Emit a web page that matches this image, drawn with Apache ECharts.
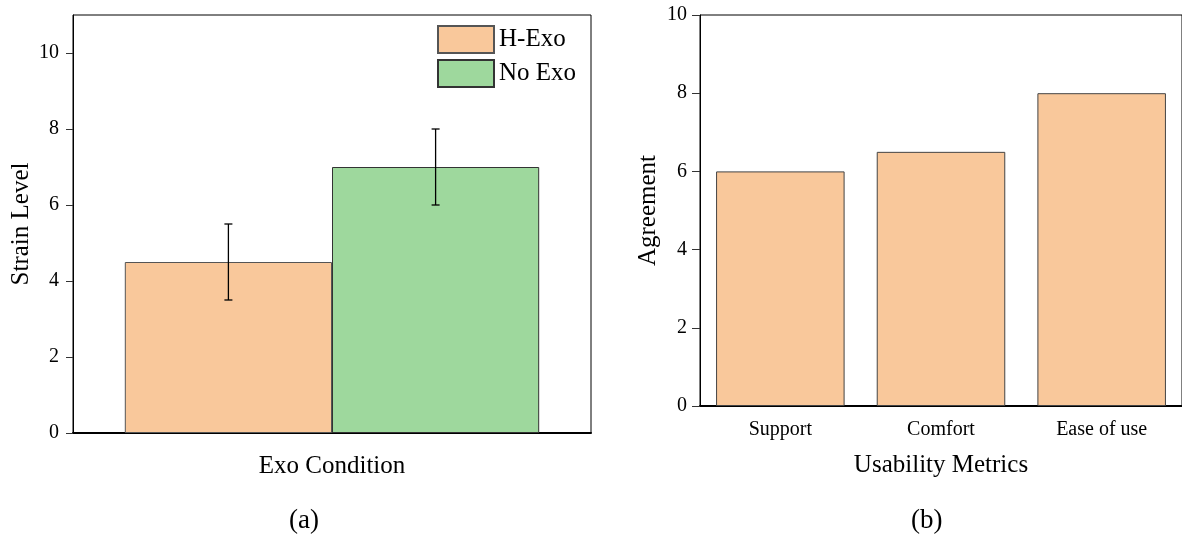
<!DOCTYPE html>
<html>
<head>
<meta charset="utf-8">
<script src="https://cdn.jsdelivr.net/npm/echarts@6/dist/echarts.min.js"></script>
<style>
  html, body { margin: 0; padding: 0; background: #fff; }
  #main { width: 1182px; height: 539px; }
</style>
</head>
<body>
<div id="main"></div>
<script>
// panel (a)
var conditions = ['H-Exo', 'No Exo'];
var strainMean = [4.5, 7];
var strainErr = [1, 1];
var strainTicks = [0, 2, 4, 6, 8, 10];
// panel (b)
var metrics = ['Support', 'Comfort', 'Ease of use'];
var agreement = [6, 6.5, 8];

var serif = 'Liberation Serif';
var colors = ['#F9C89B', '#9ED89D'];

var dom = document.getElementById('main');
var myChart = echarts.init(dom);

function errorItem(params, api) {
    var idx = api.value(3);
    var band = api.size([1, 0])[0];
    var hi = api.coord([api.value(0), api.value(2)]);
    var lo = api.coord([api.value(0), api.value(1)]);
    var x = hi[0] + (idx - 0.5) * band * 0.4;
    var cap = 4;
    var style = { stroke: '#000', lineWidth: 1.3 };
    return {
        type: 'group',
        children: [
            { type: 'line', shape: { x1: x, y1: hi[1], x2: x, y2: lo[1] }, style: style },
            { type: 'line', shape: { x1: x - cap, y1: hi[1], x2: x + cap, y2: hi[1] }, style: style },
            { type: 'line', shape: { x1: x - cap, y1: lo[1], x2: x + cap, y2: lo[1] }, style: style }
        ]
    };
}

var axisText = { fontFamily: serif, fontSize: 25, color: '#000' };

var option = {
    animation: false,
    textStyle: { fontFamily: serif },
    grid: [
        { left: 73, top: 15, width: 518, height: 418, show: true, borderColor: '#000', borderWidth: 1 },
        { left: 700, top: 15, width: 486, height: 391, show: true, borderColor: '#000', borderWidth: 1 }
    ],
    legend: {
        data: conditions,
        orient: 'vertical',
        left: 437,
        top: 25,
        padding: 0,
        itemWidth: 56,
        itemHeight: 27,
        itemGap: 5,
        icon: 'rect',
        textStyle: { fontFamily: serif, fontSize: 25, color: '#000' }
    },
    xAxis: [
        {
            gridIndex: 0,
            type: 'category',
            data: ['Exo Condition'],
            name: 'Exo Condition',
            nameLocation: 'middle',
            nameGap: 21,
            nameTextStyle: axisText,
            axisLine: { lineStyle: { color: '#000', width: 2 } },
            axisTick: { alignWithLabel: true, length: 7, lineStyle: { color: '#555' } },
            axisLabel: { show: false }
        },
        {
            gridIndex: 1,
            type: 'category',
            data: metrics,
            name: 'Usability Metrics',
            nameLocation: 'middle',
            nameGap: 47,
            nameTextStyle: axisText,
            axisLine: { lineStyle: { color: '#000', width: 2 } },
            axisTick: { alignWithLabel: true, length: 6, lineStyle: { color: '#555' } },
            axisLabel: { fontFamily: serif, fontSize: 20, color: '#000', margin: 14 }
        }
    ],
    yAxis: [
        {
            gridIndex: 0,
            type: 'value',
            min: 0,
            max: 11,
            interval: 2,
            name: 'Strain Level',
            nameLocation: 'middle',
            nameGap: 39,
            nameTextStyle: axisText,
            axisLine: { show: true, lineStyle: { color: '#000', width: 1 } },
            axisTick: { show: true, length: 7, customValues: strainTicks, lineStyle: { color: '#333' } },
            axisLabel: {
                fontFamily: serif, fontSize: 20, color: '#000', margin: 14,
                customValues: strainTicks
            },
            splitLine: { show: false }
        },
        {
            gridIndex: 1,
            type: 'value',
            min: 0,
            max: 10,
            interval: 2,
            name: 'Agreement',
            nameLocation: 'middle',
            nameGap: 39,
            nameTextStyle: axisText,
            axisLine: { show: true, lineStyle: { color: '#000', width: 1 } },
            axisTick: { show: true, length: 8, lineStyle: { color: '#333' } },
            axisLabel: { fontFamily: serif, fontSize: 20, color: '#000', margin: 13 },
            splitLine: { show: false }
        }
    ],
    series: [
        {
            name: conditions[0],
            type: 'bar',
            xAxisIndex: 0, yAxisIndex: 0,
            data: [strainMean[0]],
            barGap: 0,
            barCategoryGap: '20%',
            itemStyle: { color: colors[0], borderColor: '#555', borderWidth: 1 }
        },
        {
            name: conditions[1],
            type: 'bar',
            xAxisIndex: 0, yAxisIndex: 0,
            data: [strainMean[1]],
            barGap: 0,
            barCategoryGap: '20%',
            itemStyle: { color: colors[1], borderColor: '#333', borderWidth: 1 }
        },
        {
            type: 'custom',
            xAxisIndex: 0, yAxisIndex: 0,
            renderItem: errorItem,
            data: strainMean.map(function (m, i) {
                return [0, m - strainErr[i], m + strainErr[i], i];
            }),
            z: 10
        },
        {
            type: 'bar',
            xAxisIndex: 1, yAxisIndex: 1,
            data: agreement,
            barCategoryGap: '20%',
            itemStyle: { color: colors[0], borderColor: '#444', borderWidth: 1 }
        }
    ],
    graphic: [
        { type: 'text', left: 289, top: 507, style: { text: '(a)', font: '27px "Liberation Serif"', fill: '#000' } },
        { type: 'text', left: 911, top: 507, style: { text: '(b)', font: '27px "Liberation Serif"', fill: '#000' } }
    ]
};

myChart.setOption(option);
</script>
</body>
</html>
